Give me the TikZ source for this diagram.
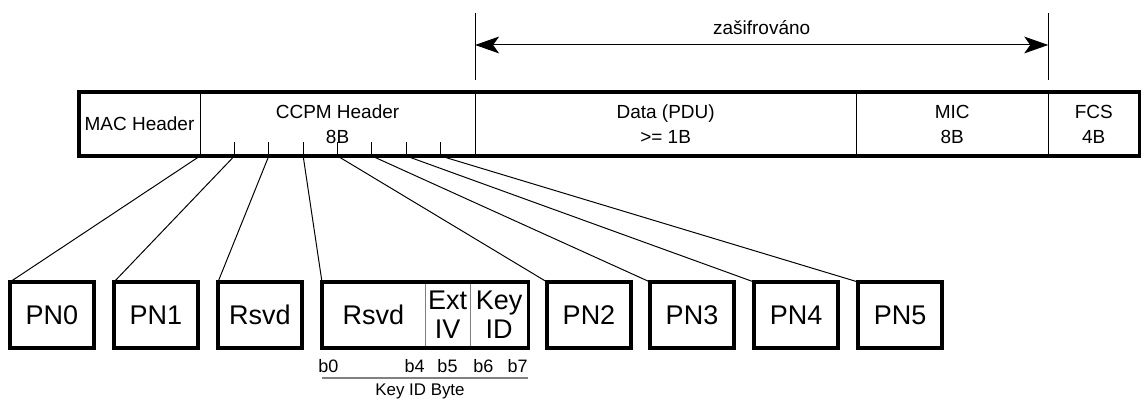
\documentclass[tikz,border=0pt]{standalone}
\usepackage{fontspec}
\setmainfont{Liberation Sans}
\usetikzlibrary{arrows.meta, positioning, calc}
\definecolor{BarGray}{HTML}{808080}
\tikzset{
  field/.style={draw, line width=0.7pt, minimum height=1.6cm, inner sep=0pt,
                outer sep=0pt, align=center,
                font=\fontsize{13.5}{17.8}\selectfont},
  pnbox/.style={draw, line width=2.2pt, minimum width=2.1cm,
                minimum height=1.65cm, inner sep=0pt, outer sep=0pt,
                align=center, font=\fontsize{19.2}{20.6}\selectfont},
  subfield/.style={draw=BarGray, line width=0.7pt, minimum height=1.65cm,
                   inner sep=0pt, outer sep=0pt, align=center,
                   font=\fontsize{19.2}{20.6}\selectfont},
  bitlab/.style={font=\fontsize{12.8}{14}\selectfont, inner sep=0pt},
  bytetick/.style={line width=0.7pt},
  feed/.style={line width=0.7pt},
  outline/.style={line width=2.2pt},
  encarrow/.style={{Stealth[length=0.6cm, width=0.42cm, inset=0.15cm]}-%
                   {Stealth[length=0.6cm, width=0.42cm, inset=0.15cm]},
                   line width=0.7pt},
}

\begin{document}
\begin{tikzpicture}[x=0.025cm, y=-0.025cm]
    \useasboundingbox (0,0) rectangle (1143,399);

    % CCMP frame
    \node[field, minimum width=3.025cm] (mac) at (139.5,124) {MAC Header};
    \node[field, minimum width=6.875cm, right=0pt of mac] (ccpm)
      {CCPM Header\\8B};
    \node[field, minimum width=9.525cm, right=0pt of ccpm] (data)
      {Data (PDU)\\>= 1B};
    \node[field, minimum width=4.8cm, right=0pt of data] (mic) {MIC\\8B};
    \node[field, minimum width=2.275cm, right=0pt of mic] (fcs) {FCS\\4B};
    \draw[outline] (mac.north west) rectangle (fcs.south east);

    % byte borders inside the header
    \foreach \i in {1,...,7} {
      \coordinate (t\i) at ($(ccpm.south west)!\i/8!(ccpm.south east)$);
      \draw[bytetick] (t\i) -- ++(0,-14);
    }

    % encrypted part
    \draw[feed] ($(data.north west)+(0,-12)$) -- ++(0,-67);
    \draw[feed] ($(mic.north east)+(0,-12)$) -- ++(0,-67);
    \coordinate (encl) at ($(data.north west)+(0,-47)$);
    \coordinate (encr) at ($(mic.north east)+(0,-47)$);
    \draw[encarrow] (encl) -- (encr)
      node[midway, above=0.25cm, inner sep=0pt,
           font=\fontsize{13.5}{16}\selectfont] (enclab) {zašifrováno};

    % header bytes
    \node[pnbox] (pn0) at (52,315) {PN0};
    \node[pnbox] (pn1) at (156,315) {PN1};
    \node[pnbox] (rsvd) at (260,315) {Rsvd};
    \node[subfield, minimum width=2.575cm] (krsvd) at (373.5,315) {Rsvd};
    \node[subfield, minimum width=1.125cm, right=0pt of krsvd] (extiv)
      {Ext\\IV};
    \node[subfield, minimum width=1.45cm, right=0pt of extiv] (keyid)
      {Key\\ID};
    \draw[outline] (krsvd.north west) rectangle (keyid.south east);
    \node[pnbox] (pn2) at (589,315) {PN2};
    \node[pnbox] (pn3) at (692,315) {PN3};
    \node[pnbox] (pn4) at (796,315) {PN4};
    \node[pnbox] (pn5) at (900,315) {PN5};

    \draw[feed] (mac.south east) -- (pn0.north west);
    \foreach \t/\b in {t1/pn1, t2/rsvd, t3/krsvd, t4/pn2, t5/pn3, t6/pn4,
                       t7/pn5}
      \draw[feed] (\t) -- (\b.north west);

    % key id byte
    \node[bitlab, anchor=west] (b0) at (318,366) {b0};
    \node[bitlab, anchor=east] (b4) at (425,366) {b4};
    \node[bitlab] (b5) at (447.5,366) {b5};
    \node[bitlab, anchor=west] (b6) at (473,366) {b6};
    \node[bitlab, anchor=east] (b7) at (528,366) {b7};
    \coordinate (barl) at (322,378);
    \coordinate (barr) at (528,378);
    \draw[BarGray, line width=1.6pt] (barl) -- (barr);
    \node[bitlab, font=\fontsize{12}{14}\selectfont] (kbyte) at (420,391)
      {Key ID Byte};
  \end{tikzpicture}
\end{document}
